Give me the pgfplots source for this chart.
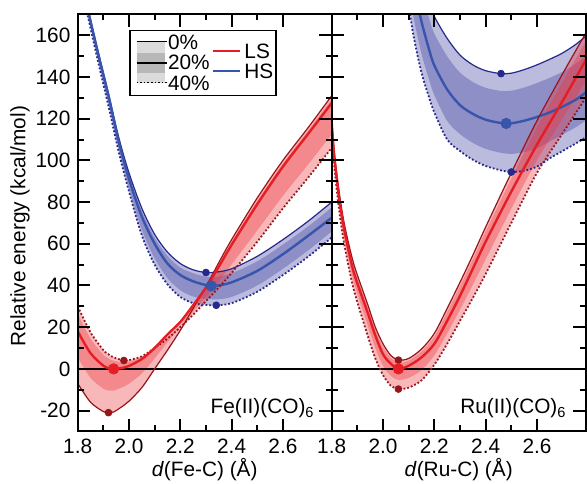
\documentclass[border=0pt]{standalone}
\usepackage{fontspec}
\setmainfont{Liberation Sans}
\usepackage{pgfplots}
\pgfplotsset{compat=1.18}
\usepackage{pgfplotstable}
\usepgfplotslibrary{fillbetween}

\definecolor{lsred}{RGB}{228,30,36}
\definecolor{lsdark}{RGB}{150,22,28}
\definecolor{lsfill}{RGB}{235,50,55}
\definecolor{hsblue}{RGB}{55,85,170}
\definecolor{hsdark}{RGB}{38,40,140}
\definecolor{hsfill}{RGB}{60,60,160}

% columns: a = 0%, c = 20%, e = 40%; b, d = edges of the darker band
\pgfplotstableread{
x    a     b     c     d     e     hi    lo
1.80 -7    5.5   18    26.4  30    30    -7
1.85 -16   -4.3  7.5   14.5  17.5  17.5  -16
1.90 -20.5 -9.5  1.5   6.8   9     9     -20.5
1.92 -21   -10.3 0.4   5.0   7     7     -21
1.94 -20.7 -10.4 0     3.9   5.5   5.5   -20.7
1.98 -17.5 -8.5  0.6   3.0   4     4     -17.5
2.00 -15.5 -7.1  1.4   3.4   4.2   4.2   -15.5
2.05 -9    -2.2  4.7   5.6   6     6     -9
2.10 0     5     10    10    10    10    0
2.15 9     12.8  16.5  15.1  14.5  16.5  9
2.20 18.5  20.5  22.5  20.8  20    22.5  18.5
2.25 29    29.8  30.5  27.4  26    30.5  26
2.30 39.5  39.3  39    34.5  32.5  39.5  32.5
2.35 51    50    49    42    39    51    39
2.40 62    60.8  59.5  50.1  46    62    46
2.50 82    80.5  79    66.4  61    82    61
2.60 100   98.5  97    83    77    100   77
2.70 116   114.5 113   98.3  92    116   92
2.79 131   129.3 127.5 112.5 106   131   106
}\FeLS

\pgfplotstableread{
x    a     b     c     d     e
1.82 185   184.7 184   182.6 182
1.84 173   172.7 172   169.9 169
1.88 152   151.7 151   148.2 147
1.92 132   131.7 131   127.5 126
1.96 111   110.3 109   105.5 104
2.00 94    93.0  91    86.8  85
2.05 77    75.6  73    66.7  64
2.10 64.5  62.9  60    53.0  50
2.15 56    54.2  50.5  43.5  40.5
2.20 50.5  48.6  45    37.7  34.5
2.25 47.5  45.9  42    34.7  31.5
2.30 46.2  44.2  40.2  33.6  30.7
2.34 46.4  44.1  39.9  33.3  30.5
2.40 48    45.9  41.5  34.5  31.5
2.50 54    51.6  47    40.0  37
2.60 62    59.6  55    48.0  45
2.70 71    68.5  64    57.0  54
2.79 80    77.4  72.5  65.9  63
}\FeHS

\pgfplotstableread{
x    a     b     c     d     e
1.80 120   119.4 118   115.8 114
1.81 104   103.4 102   99.3  97
1.83 84    83.1  81    77.7  75
1.85 69    68.1  66    62.2  59
1.88 53    51.8  49    44.6  41
1.90 45    43.8  41    36.1  32
1.94 31    29.8  27    21.0  16
1.97 20    18.8  16    10.0  5
2.00 12    10.5  7     1.5   -3
2.03 6.5   5.3   2.5   -3.3  -8
2.06 4.2   2.9   0     -5.3  -9.7
2.10 5     4.0   1.5   -4.3  -9
2.15 9.5   8.3   5.5   -0.6  -5.5
2.20 17    15.5  12    6.5   2
2.25 29    27.2  23    17.0  12
2.30 41.5  39.6  35    28.4  23
2.35 54.5  52.6  48    40.3  34
2.40 68    65.9  61    52.5  45.5
2.50 94    91.3  85    76.8  70
2.60 119   115.6 107.5 100.1 94
2.70 141.5 137.6 128.5 120.0 113
2.79 161   157.1 148   138.1 130
}\RuLS

\pgfplotstableread{
x    a     b     c     d     e
2.08 230   223   210   197.4 190
2.10 216   209   196   182.1 174
2.12 203   196   183   167.9 159
2.15 188   180.5 166.5 151.1 142
2.18 176   168   153   138.5 130
2.20 169   160.8 145.5 131.3 123
2.25 158.5 149.9 134   118.9 110
2.30 150.5 142.1 126.5 112.6 104.5
2.35 145.8 137.6 122.3 108.4 100.3
2.40 143   134.8 119.5 105.5 97.3
2.46 141.6 133.3 117.9 103.6 95.2
2.50 141.8 133.4 117.8 103.1 94.4
2.55 143.5 134.9 119   103.9 95
2.60 145.8 137.1 120.8 105.8 97
2.65 148.5 139.6 123   109.1 101
2.70 151.5 142.5 125.8 112.4 104.5
2.75 155.5 146.2 129   115.8 108
2.79 159.5 150.1 132.5 119.0 111
}\RuHS

% shaded bands: #1 table, #2 colour, #3 name, #4/#5 upper/lower column
\newcommand{\bands}[5]{%
  \addplot[name path=#3hi, draw=none, smooth] table[x=x,y=#4]{#1};
  \addplot[name path=#3lo, draw=none, smooth] table[x=x,y=#5]{#1};
  \addplot[name path=#3b, draw=none, smooth] table[x=x,y=b]{#1};
  \addplot[name path=#3d, draw=none, smooth] table[x=x,y=d]{#1};
  \addplot[fill=#2, fill opacity=0.35, draw=none] fill between[of=#3hi and #3lo];
  \addplot[fill=#2, fill opacity=0.35, draw=none] fill between[of=#3b and #3d];
}
% the three curves: #1 table, #2 main colour, #3 dark colour
\newcommand{\curves}[3]{%
  \addplot[#3, line width=0.6pt, smooth] table[x=x,y=a]{#1};
  \addplot[#3, line width=0.9pt, densely dotted, smooth] table[x=x,y=e]{#1};
  \addplot[#2, line width=1.2pt, smooth] table[x=x,y=c]{#1};
}

\pgfplotsset{
  panel/.style={
    scale only axis, width=127pt, height=208.5pt,
    xmin=1.8, xmax=2.79, ymin=-30, ymax=170,
    xtick={1.8,2.0,2.2,2.4,2.6}, minor x tick num=1,
    ytick={-20,0,20,40,60,80,100,120,140,160}, minor y tick num=1,
    tick align=inside, major tick length=6.3pt, minor tick length=3pt,
    every tick/.append style={black, line width=1pt},
    axis line style={line width=1pt},
    axis on top,
    /pgf/number format/assume math mode=true,
    xticklabel style={/pgf/number format/fixed, /pgf/number format/fixed zerofill,
      /pgf/number format/precision=1},
    xlabel style={at={(axis description cs:0.5,0)}, anchor=base, yshift=-22.6pt},
  },
}

\begin{document}
\fontsize{10.4}{12.5}\selectfont
\begin{tikzpicture}
\begin{axis}[panel, at={(0,0)}, anchor=south west,
  xlabel={\textit{d}(Fe-C) (Å)},
  ylabel={Relative energy (kcal/mol)},
  ylabel style={at={(axis description cs:-0.227,0.492)}, anchor=center},
]
\bands{\FeHS}{hsfill}{FeHS}{a}{e}
\bands{\FeLS}{lsfill}{FeLS}{hi}{lo}
\addplot[black, line width=0.7pt] coordinates {(1.8,0) (2.79,0)};
\curves{\FeHS}{hsblue}{hsdark}
\curves{\FeLS}{lsred}{lsdark}
\addplot[only marks, mark=*, mark size=1.7pt, hsdark] coordinates {(2.30,46.2) (2.34,30.5)};
\addplot[only marks, mark=*, mark size=2.6pt, hsblue] coordinates {(2.32,39.8)};
\addplot[only marks, mark=*, mark size=1.7pt, lsdark] coordinates {(1.92,-21) (1.98,4)};
\addplot[only marks, mark=*, mark size=2.6pt, lsred] coordinates {(1.94,0)};

\node[anchor=base east, inner sep=0pt] at (axis description cs:0.934,0.042) {Fe(II)(CO)\textsubscript{6}};

% legend
\draw[line width=0.6pt, fill=white] (axis description cs:0.206,0.805) rectangle (axis description cs:0.781,0.962);
\fill[black!14] (axis description cs:0.232,0.836) rectangle (axis description cs:0.345,0.937);
\fill[black!28] (axis description cs:0.232,0.860) rectangle (axis description cs:0.345,0.908);
\draw[line width=0.5pt] (axis description cs:0.232,0.936) -- (axis description cs:0.352,0.936);
\draw[line width=1.2pt] (axis description cs:0.232,0.884) -- (axis description cs:0.352,0.884);
\draw[line width=0.8pt, densely dotted] (axis description cs:0.232,0.837) -- (axis description cs:0.352,0.837);
\node[anchor=west, inner sep=0pt] at (axis description cs:0.354,0.934) {0\%};
\node[anchor=west, inner sep=0pt] at (axis description cs:0.354,0.884) {20\%};
\node[anchor=west, inner sep=0pt] at (axis description cs:0.354,0.835) {40\%};
\draw[lsred, line width=1.2pt] (axis description cs:0.531,0.912) -- (axis description cs:0.639,0.912);
\draw[hsblue, line width=1.2pt] (axis description cs:0.531,0.864) -- (axis description cs:0.639,0.864);
\node[anchor=west, inner sep=0pt] at (axis description cs:0.655,0.911) {LS};
\node[anchor=west, inner sep=0pt] at (axis description cs:0.655,0.863) {HS};
\end{axis}

\begin{axis}[panel, at={(127pt,0)}, anchor=south west,
  yticklabels={},
  xlabel={\textit{d}(Ru-C) (Å)},
]
\bands{\RuHS}{hsfill}{RuHS}{a}{e}
\bands{\RuLS}{lsfill}{RuLS}{a}{e}
\addplot[black, line width=0.7pt] coordinates {(1.8,0) (2.79,0)};
\curves{\RuHS}{hsblue}{hsdark}
\curves{\RuLS}{lsred}{lsdark}
\addplot[only marks, mark=*, mark size=1.7pt, hsdark] coordinates {(2.46,141.6) (2.50,94.4)};
\addplot[only marks, mark=*, mark size=2.6pt, hsblue] coordinates {(2.48,117.7)};
\addplot[only marks, mark=*, mark size=1.7pt, lsdark] coordinates {(2.06,4.2) (2.06,-9.7)};
\addplot[only marks, mark=*, mark size=2.6pt, lsred] coordinates {(2.06,0)};

\node[anchor=base east, inner sep=0pt] at (axis description cs:0.926,0.042) {Ru(II)(CO)\textsubscript{6}};
\end{axis}

\pgfresetboundingbox
\useasboundingbox (-38.85pt,-25.8pt) rectangle (254.65pt,215.7pt);
\end{tikzpicture}
\end{document}
